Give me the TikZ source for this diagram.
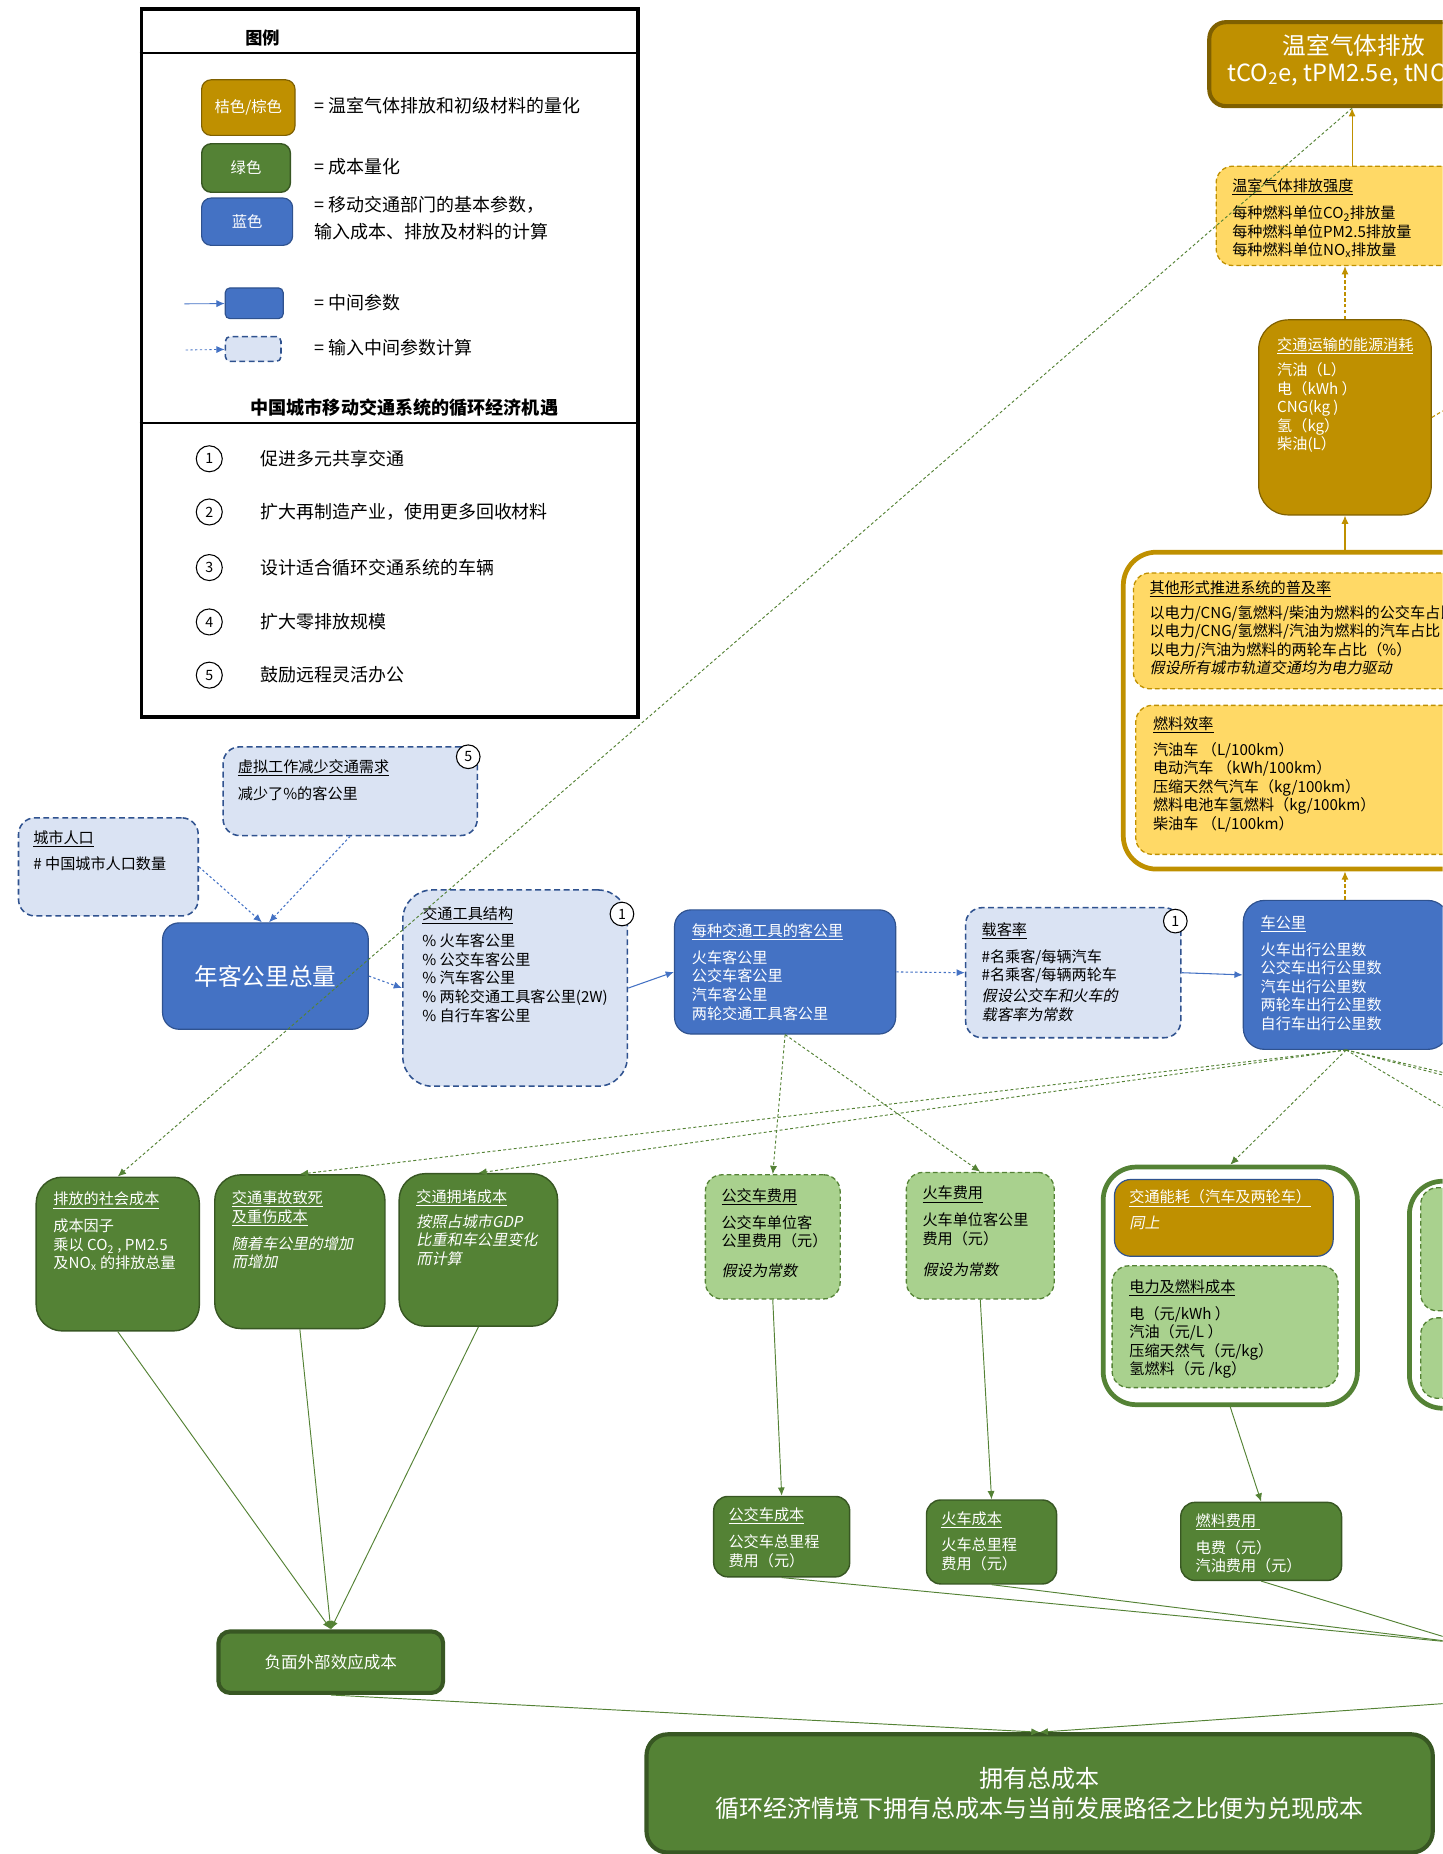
\documentclass[tikz,border=0pt]{standalone}
\usepackage{fontspec}
\setmainfont{Noto Sans CJK SC}[AutoFakeSlant=0.2]
\usetikzlibrary{arrows.meta}
\definecolor{blu}{HTML}{4472C4}
\definecolor{bluEdge}{HTML}{2F528F}
\definecolor{bluPale}{HTML}{DAE3F3}
\definecolor{gold}{HTML}{BF9000}
\definecolor{goldDark}{HTML}{7F6000}
\definecolor{yel}{HTML}{FFD966}
\definecolor{grn}{HTML}{548235}
\definecolor{grnDark}{HTML}{385723}
\definecolor{grnPale}{HTML}{A9D18E}
\newcommand\fs[2]{\fontsize{#1}{#2}\selectfont}
\tikzset{>={Latex[length=7pt,width=6pt]},
  base/.style={rectangle,anchor=north west,inner sep=0pt,rounded corners=14pt},
  bluebox/.style={base,fill=blu,draw=bluEdge,line width=1pt},
  paleblue/.style={base,fill=bluPale,draw=bluEdge,line width=1.3pt,dash pattern=on 5pt off 3pt},
  goldbox/.style={base,fill=gold,draw=goldDark,line width=1pt},
  paleyel/.style={base,fill=yel,draw=gold,line width=1.1pt,dash pattern=on 4pt off 2.5pt},
  greenbox/.style={base,fill=grn,draw=grnDark,line width=1.2pt},
  palegreen/.style={base,fill=grnPale,draw=grn,line width=1.1pt,dash pattern=on 4pt off 2.5pt},
  ring/.style={base,fill=white,line width=4pt,rounded corners=28pt},
  numtag/.style={circle,draw=black,fill=white,line width=0.9pt,minimum size=20pt,inner sep=0pt,font=\fs{12}{12}},
  txt/.style={anchor=north west,align=left,inner sep=0pt,font=\fs{12.8}{15.7}},
  wtxt/.style={txt,text=white},
  legtxt/.style={anchor=west,inner sep=0pt,font=\fs{15.2}{23}},
  headline/.style={inner sep=0pt,font=\fs{14.5}{16}\bfseries},
  bline/.style={->,draw=blu,line width=0.9pt},
  bdot/.style={->,draw=blu,line width=0.9pt,dash pattern=on 2pt off 2pt},
  gline/.style={->,draw=grn,line width=0.8pt},
  gdot/.style={->,draw=grn,line width=0.8pt,dash pattern=on 2.5pt off 2pt},
  yline/.style={->,draw=gold,line width=0.9pt},
  ydash/.style={->,draw=gold,line width=0.9pt,dash pattern=on 3pt off 2pt}}

\begin{document}
\begin{tikzpicture}[x=1pt,y=-1pt]
  \useasboundingbox (0,0) rectangle (1220,1568);
  \clip (0,0) rectangle (1220,1568);

  % legend
  \node[base,rounded corners=0pt,draw=black,line width=3pt,minimum width=420pt,minimum height=599pt] (legend) at (118,6) {};
  \draw[line width=2pt] (118,45) -- (538,45);
  \draw[line width=2pt] (118,358) -- (538,358);
  \node[headline] (legendHead) at (222,32) {图例};
  \node[goldbox,rounded corners=8pt,minimum width=79pt,minimum height=47pt,text=white,font=\fs{13}{14}] (swGold) at (170,67) {桔色/棕色};
  \node[greenbox,rounded corners=8pt,minimum width=75pt,minimum height=41pt,text=white,font=\fs{13}{14}] (swGreen) at (170,121) {绿色};
  \node[bluebox,rounded corners=8pt,minimum width=77pt,minimum height=40pt,text=white,font=\fs{13}{14}] (swBlue) at (170,167) {蓝色};
  \node[bluebox,rounded corners=4pt,minimum width=49pt,minimum height=26pt] (swMid) at (190,243) {};
  \node[paleblue,rounded corners=4pt,minimum width=47pt,minimum height=21pt] (swIn) at (190,284) {};
  \coordinate (swMidFrom) at (156,257);
  \coordinate (swInFrom) at (157,296);
  \draw[bline,line width=0.7pt] (swMidFrom) -- (swMid);
  \draw[bdot,line width=0.7pt] (swInFrom) -- (swIn);
  \node[legtxt] (legGold) at (266,89) {= 温室气体排放和初级材料的量化};
  \node[legtxt] (legGreen) at (266,141) {= 成本量化};
  \node[legtxt,anchor=north west,align=left] (legBlue) at (266,166) {= 移动交通部门的基本参数，\\输入成本、排放及材料的计算};
  \node[legtxt] (legMid) at (266,256) {= 中间参数};
  \node[legtxt] (legIn) at (266,294) {= 输入中间参数计算};
  \node[headline,font=\fs{15.3}{16}\bfseries] (oppHead) at (342,345) {中国城市移动交通系统的循环经济机遇};
  \foreach \i/\y/\t in {1/388/促进多元共享交通,2/433/扩大再制造产业，使用更多回收材料,
      3/480/设计适合循环交通系统的车辆,4/526/扩大零排放规模,5/571/鼓励远程灵活办公}{
    \node[numtag,minimum size=22pt] (opp\i) at (177,\y) {\i};
    \node[legtxt] (oppT\i) at (220,\y) {\t};
  }

  % emissions branch
  \node[goldbox,draw=goldDark,line width=3.5pt,minimum width=260pt,minimum height=71pt] (ghg) at (1021,17) {};
  \node[wtxt,anchor=center,font=\fs{20}{24}] (ghgT1) at (1145,38) {温室气体排放};
  \node[wtxt,anchor=west,font=\fs{20}{24}] (ghgT2) at (1038,63) {tCO\textsubscript{2}e, tPM2.5e, tNO\textsubscript{x}e};
  \node[paleyel,minimum width=250pt,minimum height=84pt] (intensity) at (1028,140) {};
  \node[txt] (intensityT) at (1042,151) {\underline{温室气体排放强度}\\[7pt]
    每种燃料单位CO\textsubscript{2}排放量\\每种燃料单位PM2.5排放量\\每种燃料单位NO\textsubscript{x}排放量};
  \node[goldbox,rounded corners=25pt,minimum width=146pt,minimum height=165pt] (energy) at (1064,270) {};
  \node[wtxt] (energyT) at (1080,285) {\underline{交通运输的能源消耗}\\[6pt]
    汽油（L）\\电（kWh ）\\CNG(kg )\\氢（kg）\\柴油(L）};
  \node[ring,draw=gold,minimum width=330pt,minimum height=268pt] (propGroup) at (948,465) {};
  \node[paleyel,minimum width=300pt,minimum height=98pt] (penetration) at (958,484) {};
  \node[txt] (penetrationT) at (972,491) {\underline{其他形式推进系统的普及率}\\[5pt]
    以电力/CNG/氢燃料/柴油为燃料的公交车占比（\%）\\以电力/CNG/氢燃料/汽油为燃料的汽车占比（\%）\\
    以电力/汽油为燃料的两轮车占比（\%）\\{\itshape 假设所有城市轨道交通均为电力驱动}};
  \node[paleyel,minimum width=300pt,minimum height=126pt] (efficiency) at (960,596) {};
  \node[txt] (efficiencyT) at (975,606) {\underline{燃料效率}\\[6pt]
    汽油车 （L/100km）\\电动汽车 （kWh/100km）\\压缩天然气汽车（kg/100km）\\燃料电池车氢燃料（kg/100km）\\柴油车 （L/100km）};
  \coordinate (offE) at (1300,300);

  % passenger km chain
  \node[paleblue,minimum width=152pt,minimum height=83pt] (cityPop) at (15,691) {};
  \node[txt] (cityPopT) at (28,702) {\underline{城市人口}\\[7pt]\# 中国城市人口数量};
  \node[paleblue,minimum width=215pt,minimum height=75pt] (remote) at (188,631) {};
  \node[txt] (remoteT) at (201,642) {\underline{虚拟工作减少交通需求}\\[7pt]减少了\%的客公里};
  \node[numtag] (remoteN) at (396,640) {5};
  \node[bluebox,minimum width=174pt,minimum height=90pt,text=white,font=\fs{20}{24}] (totalPkm) at (137,780) {年客公里总量};
  \node[paleblue,rounded corners=25pt,minimum width=190pt,minimum height=166pt] (modeShare) at (340,752) {};
  \node[txt] (modeShareT) at (357,767) {\underline{交通工具结构}\\[7pt]
    \% 火车客公里\\\% 公交车客公里\\\% 汽车客公里\\\% 两轮交通工具客公里(2W)\\\% 自行车客公里};
  \node[numtag] (modeShareN) at (526,773) {1};
  \node[bluebox,minimum width=187pt,minimum height=105pt] (modePkm) at (570,769) {};
  \node[wtxt] (modePkmT) at (585,781) {\underline{每种交通工具的客公里}\\[7pt]
    火车客公里\\公交车客公里\\汽车客公里\\两轮交通工具客公里};
  \node[paleblue,minimum width=182pt,minimum height=110pt] (occupancy) at (816,767) {};
  \node[txt] (occupancyT) at (830,780) {\underline{载客率}\\[7pt]
    \#名乘客/每辆汽车\\\#名乘客/每辆两轮车\\[2pt]{\itshape 假设公交车和火车的}\\{\itshape 载客率为常数}};
  \node[numtag] (occupancyN) at (994,779) {1};
  \node[bluebox,rounded corners=18pt,minimum width=174pt,minimum height=126pt] (vkm) at (1051,761) {};
  \node[wtxt] (vkmT) at (1066,774) {\underline{车公里}\\[7pt]
    火车出行公里数\\公交车出行公里数\\汽车出行公里数\\两轮车出行公里数\\自行车出行公里数};

  % cost boxes
  \node[greenbox,rounded corners=22pt,minimum width=138pt,minimum height=130pt] (socEmis) at (30,995) {};
  \node[wtxt] (socEmisT) at (45,1008) {\underline{排放的社会成本}\\[7pt]
    成本因子\\乘以 CO\textsubscript{2} , PM2.5\\及NO\textsubscript{x} 的排放总量};
  \node[greenbox,rounded corners=22pt,minimum width=144pt,minimum height=130pt] (accident) at (181,993) {};
  \node[wtxt] (accidentT) at (196,1007) {\underline{交通事故致死}\\\underline{及重伤成本}\\[7pt]
    {\itshape 随着车公里的增加}\\{\itshape 而增加}};
  \node[greenbox,rounded corners=22pt,minimum width=134pt,minimum height=129pt] (congest) at (337,992) {};
  \node[wtxt] (congestT) at (352,1006) {\underline{交通拥堵成本}\\[5pt]
    {\itshape 按照占城市GDP}\\{\itshape 比重和车公里变化}\\{\itshape 而计算}};
  \node[palegreen,minimum width=114pt,minimum height=105pt] (busFee) at (596,993) {};
  \node[txt] (busFeeT) at (610,1005) {\underline{公交车费用}\\[7pt]
    公交车单位客\\公里费用（元）\\[9pt]{\itshape 假设为常数}};
  \node[palegreen,minimum width=125pt,minimum height=107pt] (railFee) at (766,991) {};
  \node[txt] (railFeeT) at (780,1003) {\underline{火车费用}\\[7pt]
    火车单位客公里\\费用（元）\\[11pt]{\itshape 假设为常数}};
  \node[ring,draw=grn,minimum width=215pt,minimum height=201pt] (costGroup) at (931,985) {};
  \node[goldbox,draw=bluEdge,minimum width=185pt,minimum height=65pt] (energyUse) at (942,997) {};
  \node[wtxt] (energyUseT) at (955,1006) {\underline{交通能耗（汽车及两轮车）}\\[6pt]{\itshape 同上}};
  \node[palegreen,minimum width=191pt,minimum height=103pt] (fuelPrice) at (940,1070) {};
  \node[txt] (fuelPriceT) at (955,1082) {\underline{电力及燃料成本}\\[7pt]
    电（元/kWh ）\\汽油（元/L ）\\压缩天然气（元/kg）\\氢燃料（元 /kg）};
  \node[ring,draw=grn,minimum width=260pt,minimum height=192pt] (rightGroup) at (1190,997) {};
  \node[palegreen,minimum width=200pt,minimum height=104pt] (rightA) at (1201,1004) {};
  \node[palegreen,minimum width=200pt,minimum height=68pt] (rightB) at (1201,1114) {};
  \node[greenbox,rounded corners=12pt,minimum width=115pt,minimum height=68pt] (busCost) at (603,1265) {};
  \node[wtxt] (busCostT) at (616,1275) {\underline{公交车成本}\\[7pt]公交车总里程\\费用（元）};
  \node[greenbox,rounded corners=12pt,minimum width=110pt,minimum height=71pt] (railCost) at (783,1268) {};
  \node[wtxt] (railCostT) at (796,1278) {\underline{火车成本}\\[7pt]火车总里程\\费用（元）};
  \node[greenbox,rounded corners=12pt,minimum width=136pt,minimum height=66pt] (fuelCost) at (998,1270) {};
  \node[wtxt] (fuelCostT) at (1011,1280) {\underline{燃料费用 }\\[7pt]电费（元）\\汽油费用（元）};
  \node[greenbox,draw=grnDark,line width=3.5pt,rounded corners=10pt,minimum width=190pt,minimum height=52pt,
    text=white,font=\fs{14}{16}] (negExt) at (183,1378) {负面外部效应成本};
  \node[greenbox,draw=grnDark,line width=3.5pt,rounded corners=18pt,minimum width=665pt,minimum height=100pt,
    text=white,font=\fs{20.3}{25},align=center] (tco) at (545,1465) {拥有总成本\\循环经济情境下拥有总成本与当前发展路径之比便为兑现成本};
  \coordinate (offR1) at (1500,972);
  \coordinate (offR2) at (1500,982);
  \coordinate (offCost) at (1240,1390);
  \coordinate (offTco) at (1260,1438);

  % connectors
  \draw[bdot] (cityPop.east) -- ([xshift=-3pt]totalPkm.north);
  \draw[bdot] (remote.south) -- ([xshift=3pt]totalPkm.north);
  \draw[bdot] (totalPkm.east) -- (modeShare.west);
  \draw[bline] (modeShare.east) -- (modePkm.west);
  \draw[bdot] (modePkm.east) -- (occupancy.west);
  \draw[bline] (occupancy.east) -- (vkm.west);
  \draw[ydash] (energy.south |- vkm.north) -- (energy.south |- propGroup.south);
  \draw[yline] (energy.south |- propGroup.north) -- (energy.south);
  \draw[ydash] (energy.north) -- (energy.north |- intensity.south);
  \draw[yline] ([xshift=6pt]energy.north |- intensity.north) -- ([xshift=6pt]energy.north |- ghg.south);
  \draw[ydash] (energy.east) -- (offE);
  \draw[gdot] ([xshift=6pt]energy.north |- ghg.south) -- (socEmis.north);
  \draw[gdot] (vkm.south) -- (accident.north);
  \draw[gdot] (vkm.south) -- (congest.north);
  \draw[gdot] (vkm.south) -- (costGroup.north);
  \draw[gdot] (vkm.south) -- (rightGroup.north);
  \draw[gdot] (vkm.south) -- (offR1);
  \draw[gdot] (vkm.south) -- (offR2);
  \draw[gdot] (modePkm.south) -- (busFee.north);
  \draw[gdot] (modePkm.south) -- (railFee.north);
  \draw[gline] (busFee.south) -- (busCost.north);
  \draw[gline] (railFee.south) -- (railCost.north);
  \draw[gline] (costGroup.south) -- (fuelCost.north);
  \draw[gline] (busCost.south) -- (offCost);
  \draw[gline] (railCost.south) -- (offCost);
  \draw[gline] (fuelCost.south) -- (offCost);
  \draw[gline] (socEmis.south) -- (negExt.north);
  \draw[gline] (accident.south) -- (negExt.north);
  \draw[gline] (congest.south) -- (negExt.north);
  \draw[gline] (negExt.south) -- (tco.north);
  \draw[gline] (offTco) -- (tco.north);
\end{tikzpicture}
\end{document}
